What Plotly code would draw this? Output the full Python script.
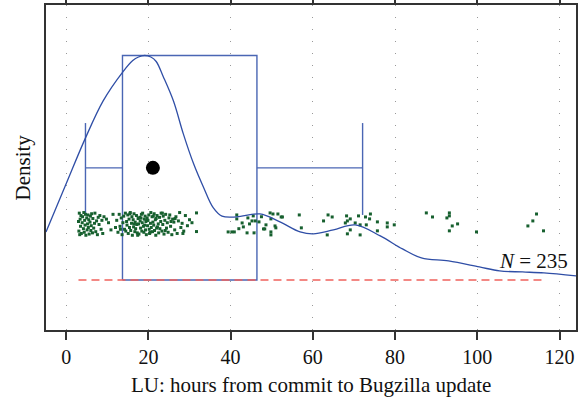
import plotly.graph_objects as go

# ---------------- data ----------------
tick_values = [0, 20, 40, 60, 80, 100, 120]
tick_labels = ["0", "20", "40", "60", "80", "100", "120"]

# density curve (x in hours, density)
density_x = [-4.9, 0.0, 4.6, 9.0, 13.8, 16.2, 17.6, 19.1, 20.6, 21.9,
             23.6, 26.1, 28.5, 31.0, 33.4, 35.8, 37.9, 41.5, 47.1, 52.0,
             56.9, 60.1, 65.0, 70.3, 76.4, 81.8, 86.4, 93.0, 100.5, 105.4,
             111.0, 116.2, 124.0]
density_y = [0.00643, 0.01286, 0.01888, 0.02397, 0.02786, 0.02937, 0.02984, 0.03004, 0.02984, 0.02924,
             0.02723, 0.02394, 0.01955, 0.01554, 0.01241, 0.00964, 0.00854, 0.00844, 0.00884, 0.00777,
             0.00643, 0.00616, 0.00670, 0.00737, 0.00589, 0.00415, 0.00295, 0.00254, 0.00174, 0.00121,
             0.00107, 0.00094, 0.00054]

# box / whisker statistics (hours)
box_low, box_high = 13.7, 46.4
whisker_low, whisker_high = 4.7, 72.1
mean_hours = 21.1
n_obs = 235

# observations (hours) and their vertical jitter (-1 .. 1)
lu_hours = [
    3.0, 3.1, 3.2, 3.3, 3.4, 3.5, 3.6, 3.7, 3.9, 4.0,
    4.2, 4.3, 4.4, 4.5, 4.6, 4.7, 4.8, 5.0, 5.1, 5.2,
    5.3, 5.4, 5.5, 5.6, 5.8, 5.9, 6.0, 6.1, 6.2, 6.4,
    6.5, 6.7, 6.9, 7.0, 7.2, 7.4, 7.6, 7.8, 8.0, 8.2,
    8.5, 8.7, 8.9, 9.2, 9.8,
    10.3, 10.9, 11.4, 12.0,
    12.3, 12.6, 12.9, 13.1, 13.4, 13.6, 13.8, 14.0, 14.2, 14.4,
    14.5, 14.7, 14.8, 15.0, 15.1, 15.3, 15.4, 15.6, 15.7, 15.9,
    16.0, 16.1, 16.3, 16.4, 16.5, 16.7, 16.8, 16.9, 17.1, 17.2,
    17.3, 17.5, 17.6, 17.7, 17.9, 18.0, 18.1, 18.3, 18.4, 18.5,
    18.6, 18.8, 18.9, 19.0, 19.2, 19.3, 19.4, 19.5, 19.7, 19.8,
    19.9, 20.1, 20.2, 20.3, 20.5, 20.6, 20.7, 20.9, 21.0, 21.1,
    21.3, 21.4, 21.5, 21.7, 21.8, 21.9, 22.1, 22.2, 22.4, 22.5,
    22.7, 22.8, 23.0, 23.1, 23.3, 23.5, 23.6, 23.8, 24.0, 24.2,
    24.4, 24.6, 24.8, 25.0, 25.2, 25.4, 25.7, 25.9, 26.2, 26.4,
    26.7, 27.0, 27.3, 27.6, 27.9, 28.2, 28.6, 29.0, 29.5, 30.0,
    13.2, 15.5, 16.6, 17.4, 18.2, 19.1, 19.6, 20.4, 21.2, 22.0,
    23.4, 24.1, 25.5, 26.5, 28.4, 30.6,
    31.7, 31.7,
    39.4, 40.3, 40.9, 41.5, 41.5, 42.8, 43.1, 44.0, 44.2, 45.2,
    45.5, 45.7, 46.0, 46.9, 48.0, 48.3, 48.6, 49.6, 49.8, 49.8,
    49.8, 50.3, 50.8, 51.0, 51.5, 52.3, 52.6, 56.7, 57.2, 42.0,
    44.6, 47.5,
    62.6, 63.5, 63.7, 64.7, 67.9, 68.2, 68.4, 68.4, 69.1, 69.1,
    70.3, 71.1, 71.5, 71.5, 72.8, 73.0, 73.8, 74.0, 75.7, 75.7,
    78.1, 78.1, 79.8,
    87.6, 89.1, 92.6, 93.2, 93.2, 93.2, 93.9, 95.2,
    99.8,
    112.3, 113.5, 114.4, 116.1,
]
lu_jitter = [
    0.2, -0.6, 0.9, -0.9, 0.4, -0.2, 0.7, -0.8, 0.1, 0.6,
    -0.4, 0.95, -0.7, 0.3, -0.1, 0.8, -0.95, 0.5, -0.5, 0.0,
    0.75, -0.3, 0.35, -0.85, 0.15, 0.65, -0.55, -0.15, 0.85, -0.75,
    0.45, -0.35, 0.05, 0.9, -0.65, 0.25, -0.9, 0.55, -0.05, 0.7,
    -0.45, 0.3, -0.8, 0.6, 0.4,
    0.1, -0.5, 0.8, -0.3,
    0.3, -0.7, 0.8, -0.2, 0.5, -0.9, 0.1, 0.65, -0.45, 0.9,
    -0.6, 0.2, -0.1, 0.75, -0.8, 0.4, -0.3, 0.95, -0.55, 0.05,
    0.6, -0.95, 0.35, -0.25, 0.85, -0.65, 0.15, -0.4, 0.7, -0.05,
    -0.75, 0.45, 0.0, -0.85, 0.55, 0.25, -0.35, 0.8, -0.6, 0.1,
    0.9, -0.2, -0.7, 0.4, 0.65, -0.5, 0.2, -0.9, 0.5, -0.15,
    0.3, 0.75, -0.45, -0.8, 0.05, 0.95, -0.3, 0.6, -0.65, 0.15,
    -0.1, 0.85, -0.55, 0.35, -0.95, 0.45, 0.7, -0.25, 0.0, -0.75,
    0.55, -0.4, 0.2, 0.9, -0.6, -0.05, 0.65, -0.85, 0.3, 0.8,
    -0.35, 0.1, -0.7, 0.5, 0.75, -0.2, -0.9, 0.4, 0.15, -0.5,
    0.6, -0.8, 0.25, 0.95, -0.3, 0.05, -0.6, 0.7, -0.15, 0.35,
    -0.45, 0.85, 0.0, -0.95, 0.5, -0.1, 0.3, -0.7, 0.65, -0.35,
    0.9, -0.55, 0.2, 0.45, -0.8, 0.1,
    0.92, -0.64,
    -0.67, -0.67, -0.67, 0.75, 0.42, 0.08, -0.25, -0.75, 0.5, 0.25,
    0.67, -0.75, 0.25, 0.17, -0.42, -0.42, -0.08, 0.92, -0.67, -0.92,
    0.42, 0.83, -0.17, -0.33, 0.83, 0.58, 0.58, 0.75, -0.33, -0.4,
    0.0, 0.6,
    0.25, -0.92, 0.75, 0.58, 0.08, 0.67, 0.25, -0.83, 0.42, -0.5,
    0.08, 0.67, -0.08, -0.92, 0.58, -0.08, 0.42, 0.83, 0.17, -0.58,
    0.08, -0.25, -0.08,
    0.92, 0.58, 0.5, 0.92, 0.67, -0.58, -0.17, 0.0,
    -0.67,
    -0.17, 0.25, 0.83, -0.58,
]

# ---------------- layout constants ----------------
x_range = [-4.9, 124.0]
y_range = [-0.0067, 0.0368]
band_center, band_half = 0.0075, 0.0016
whisker_y = 0.0150
cap_lo, cap_hi = 0.0087, 0.0210
box_top = max(density_y)

BOX_COL = "#4a66b4"
CURVE_COL = "#2f4ea6"
PT_COL = "#17602f"
FONT = "Liberation Serif, Times New Roman, serif"

fig = go.Figure()

# box
fig.add_trace(go.Scatter(
    x=[box_low, box_high, box_high, box_low, box_low],
    y=[0, 0, box_top, box_top, 0],
    mode="lines", line=dict(color=BOX_COL, width=1.4), hoverinfo="skip"))
# whiskers
for xs in ([whisker_low, box_low], [box_high, whisker_high]):
    fig.add_trace(go.Scatter(x=xs, y=[whisker_y, whisker_y], mode="lines",
                             line=dict(color=BOX_COL, width=1.4), hoverinfo="skip"))
for xc in (whisker_low, whisker_high):
    fig.add_trace(go.Scatter(x=[xc, xc], y=[cap_lo, cap_hi], mode="lines",
                             line=dict(color=BOX_COL, width=1.4), hoverinfo="skip"))

# range (min..max) dashed
fig.add_trace(go.Scatter(x=[min(lu_hours), max(lu_hours)], y=[0, 0], mode="lines",
                         line=dict(color="#f0625c", width=1.5, dash="8px,5px"),
                         hoverinfo="skip"))

# points
n = min(len(lu_hours), len(lu_jitter))
fig.add_trace(go.Scatter(
    x=lu_hours[:n],
    y=[band_center + j * band_half for j in lu_jitter[:n]],
    mode="markers",
    marker=dict(symbol="square", size=3, color=PT_COL, line=dict(width=0))))

# density
fig.add_trace(go.Scatter(x=density_x, y=density_y, mode="lines",
                         line=dict(color=CURVE_COL, width=1.3, shape="spline", smoothing=1.0),
                         hoverinfo="skip"))

# mean
fig.add_trace(go.Scatter(x=[mean_hours], y=[whisker_y], mode="markers",
                         marker=dict(size=14, color="black")))

fig.add_annotation(x=113.7, y=0.0025, text=f"<i>N</i> = {n_obs}", showarrow=False,
                   font=dict(family=FONT, size=21, color="#111"), xanchor="center",
                   yanchor="middle")

# axis titles
fig.add_annotation(xref="paper", yref="paper", x=0.5, y=0, yshift=-55,
                   text="LU: hours from commit to Bugzilla update", showarrow=False,
                   font=dict(family=FONT, size=21, color="#111"),
                   xanchor="center", yanchor="middle")
fig.add_annotation(xref="paper", yref="paper", x=0, y=0.5, xshift=-24,
                   text="Density", showarrow=False, textangle=-90,
                   font=dict(family=FONT, size=21, color="#111"),
                   xanchor="center", yanchor="middle")

fig.update_layout(
    width=581, height=404,
    margin=dict(l=46, r=5, t=5, b=74),
    paper_bgcolor="white", plot_bgcolor="white",
    showlegend=False,
    font=dict(family=FONT, size=20, color="#111"),
)
fig.update_xaxes(
    range=x_range, tickvals=tick_values, ticktext=tick_labels, automargin=False,
    showline=True, linecolor="#333", linewidth=1.5, mirror="ticks",
    ticks="outside", ticklen=8, tickwidth=1.5, tickcolor="#333",
    showgrid=True, gridcolor="#999", gridwidth=1, griddash="1px,11px",
    zeroline=False,
    tickfont=dict(family=FONT, size=20, color="#111"),
)
fig.update_yaxes(
    range=y_range, showticklabels=False, ticks="", showgrid=False, zeroline=False,
    automargin=False,
    showline=True, linecolor="#333", linewidth=1.5, mirror=True,
)

fig.write_html(
    "out.html",
    config={"displayModeBar": False},
    post_script="document.body.style.margin='0px';document.body.style.overflow='hidden';",
)
